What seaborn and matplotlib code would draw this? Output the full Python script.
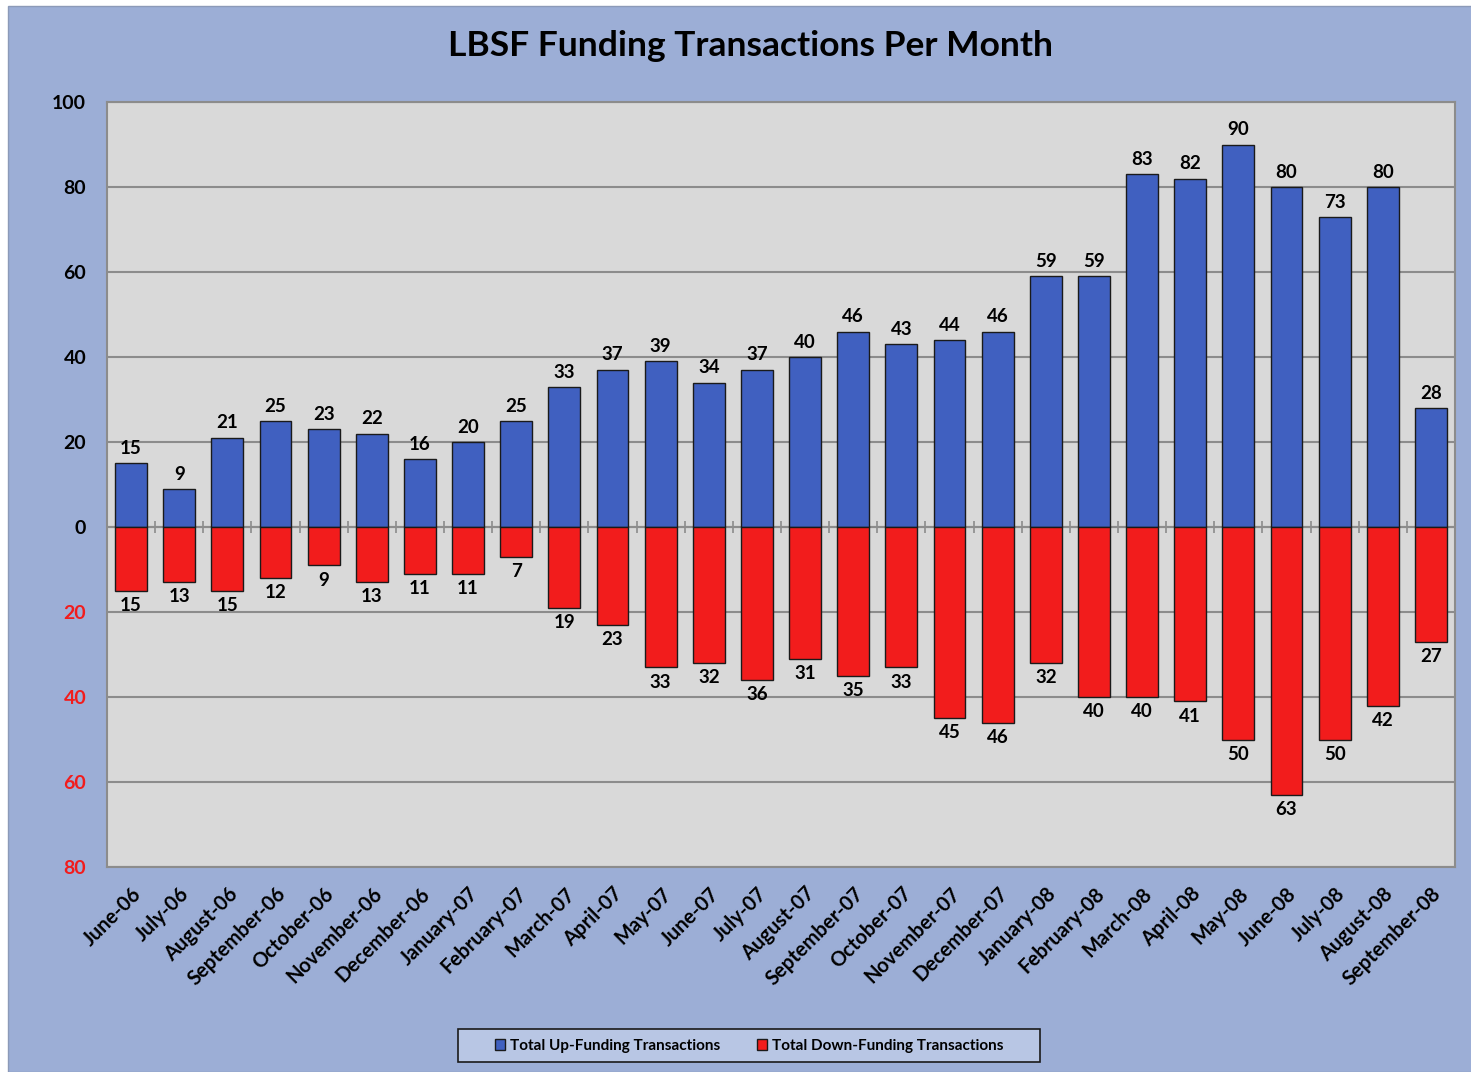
import matplotlib
matplotlib.use("Agg")
import matplotlib.pyplot as plt
import matplotlib.patches as mpatches
import seaborn as sns
import pandas as pd
import numpy as np

months = ["June-06", "July-06", "August-06", "September-06", "October-06", "November-06",
          "December-06", "January-07", "February-07", "March-07", "April-07", "May-07",
          "June-07", "July-07", "August-07", "September-07", "October-07", "November-07",
          "December-07", "January-08", "February-08", "March-08", "April-08", "May-08",
          "June-08", "July-08", "August-08", "September-08"]
up_funding = [15, 9, 21, 25, 23, 22, 16, 20, 25, 33, 37, 39, 34, 37, 40, 46, 43, 44, 46,
              59, 59, 83, 82, 90, 80, 73, 80, 28]
down_funding = [15, 13, 15, 12, 9, 13, 11, 11, 7, 19, 23, 33, 32, 36, 31, 35, 33, 45, 46,
                32, 40, 40, 41, 50, 63, 50, 42, 27]
y_ticks = [-80, -60, -40, -20, 0, 20, 40, 60, 80, 100]

title = "LBSF Funding Transactions Per Month"
up_label = "Total Up-Funding Transactions"
down_label = "Total Down-Funding Transactions"

UP_C = "#4060c0"
DOWN_C = "#f21c1c"
BG = "#9caed6"
PLOT_BG = "#d9d9d9"

sns.set_style("white")
plt.rcParams['font.family'] = ['Lato', 'DejaVu Sans']
plt.rcParams['text.color'] = 'black'
plt.rcParams['xtick.color'] = 'black'
plt.rcParams['ytick.color'] = 'black'

W, H = 1471, 1072
fig = plt.figure(figsize=(W / 100, H / 100), dpi=100)
fig.patch.set_facecolor("white")
bg = mpatches.Rectangle((8 / W, 0), 1, 1 - 6 / H, transform=fig.transFigure,
                        facecolor=BG, edgecolor="#8c9ab8", linewidth=1, zorder=-10)
fig.patches.append(bg)

ax = fig.add_axes([107 / W, 1 - 867 / H, (1455 - 107) / W, (867 - 102) / H])
ax.set_facecolor(PLOT_BG)

df = pd.DataFrame({"month": months, "up": up_funding, "down": [-d for d in down_funding]})
sns.barplot(data=df, x="month", y="up", color=UP_C, width=0.66, edgecolor="#1a1a1a",
            linewidth=1.0, saturation=1, ax=ax, zorder=3)
sns.barplot(data=df, x="month", y="down", color=DOWN_C, width=0.66, edgecolor="#1a1a1a",
            linewidth=1.0, saturation=1, ax=ax, zorder=3)

ax.set_ylim(-80, 100)
ax.set_xlim(-0.5, len(months) - 0.5)
ax.set_yticks(y_ticks)
ax.set_yticklabels([str(abs(v)) for v in y_ticks], fontsize=14, fontweight="bold")
for lbl, v in zip(ax.get_yticklabels(), y_ticks):
    lbl.set_color(DOWN_C if v < 0 else "black")
ax.yaxis.grid(True, color="#8c8c8c", linewidth=1.5, zorder=1)
ax.set_axisbelow(True)
ax.tick_params(axis="y", length=0, pad=15)
ax.tick_params(axis="x", length=0, pad=12)
ax.set_xlabel("")
ax.set_ylabel("")
ax.set_xticks(range(len(months)))
ax.set_xticklabels(months, rotation=45, ha="right", rotation_mode="anchor",
                   fontsize=14.5, fontweight="bold")
for s in ax.spines.values():
    s.set_color("#8c8c8c")
    s.set_linewidth(1.5)

# zero line with category boundary tick marks
ax.axhline(0, color="#8c8c8c", linewidth=1.5, zorder=2)
bounds = np.arange(len(months) + 1) - 0.5
ax.plot(bounds, np.zeros_like(bounds), linestyle="none", marker="|", markersize=9,
        color="#8c8c8c", markeredgewidth=1.2, zorder=2, clip_on=False)

for i, (u, d) in enumerate(zip(up_funding, down_funding)):
    ax.annotate(str(u), (i, u), xytext=(0, 4.5), textcoords="offset points", ha="center",
                va="bottom", fontsize=13.5, fontweight="bold", zorder=5)
    ax.annotate(str(d), (i, -d), xytext=(0, -4.5), textcoords="offset points", ha="center",
                va="top", fontsize=13.5, fontweight="bold", zorder=5)

fig.text(750 / W, 1 - 46 / H, title, ha="center", va="center", fontsize=25.5,
         fontweight="bold", color="black")

# legend frame and legend
frame = mpatches.Rectangle((458 / W, 1 - 1062 / H), (1040 - 458) / W, (1062 - 1029) / H,
                           transform=fig.transFigure, facecolor="#b8c6e4",
                           edgecolor="#1a1a1a", linewidth=1.2, zorder=1)
fig.patches.append(frame)
handles = [mpatches.Patch(facecolor=UP_C, edgecolor="#1a1a1a", label=up_label),
           mpatches.Patch(facecolor=DOWN_C, edgecolor="#1a1a1a", label=down_label)]
leg = fig.legend(handles=handles, loc="center", bbox_to_anchor=(749 / W, 1 - 1046 / H),
                 ncol=2, frameon=False,
                 prop={"weight": "bold", "size": 11}, handlelength=0.7, handleheight=0.7,
                 handletextpad=0.3, columnspacing=2.4, borderpad=0.3, borderaxespad=0)
leg.set_zorder(2)
for t in leg.get_texts():
    t.set_color("black")

fig.savefig("out.png", dpi=100, facecolor=fig.get_facecolor())
